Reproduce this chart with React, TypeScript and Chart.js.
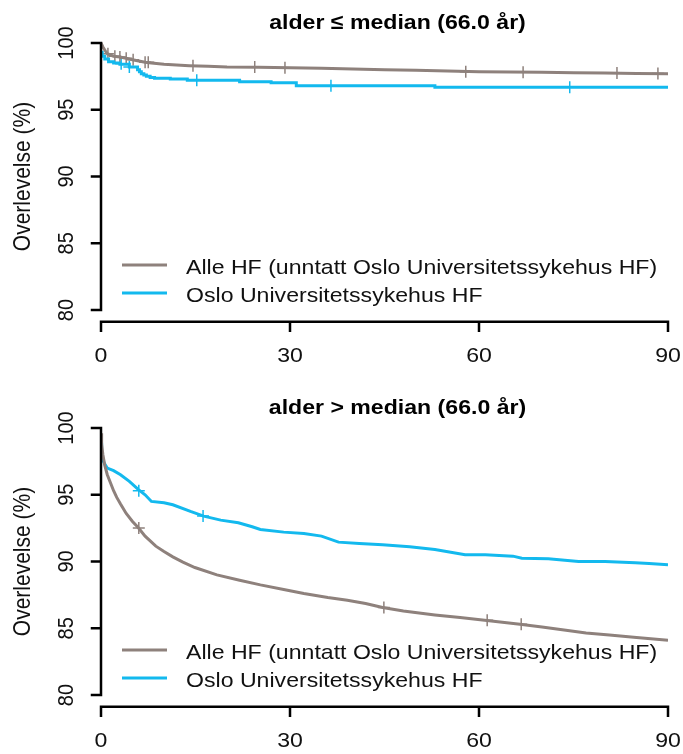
import React, { useEffect, useRef } from "react";
import { Chart, registerables } from "chart.js";

Chart.register(...registerables);

const FONT = '"Liberation Sans", Arial, Helvetica, sans-serif';
const SX = 1.1;

// ---------- shared axis / legend text ----------
const xTicks = [0, 30, 60, 90];
const yTicks = [80, 85, 90, 95, 100];
const yTitle = "Overlevelse (%)";
const seriesNames = ["Alle HF (unntatt Oslo Universitetssykehus HF)", "Oslo Universitetssykehus HF"];
const seriesColors = ["#8E817C", "#13B9EE"];

// ---------- panel 1: alder <= median ----------
const title1 = "alder ≤ median (66.0 år)";
const p1AlleT = [0, 0.3, 0.7, 1, 1.5, 2, 3, 4, 5, 6, 7, 8, 10, 12, 14, 17, 20, 25, 30, 35, 40, 45, 50, 55, 60, 65, 70, 75, 80, 85, 90];
const p1AlleS = [100, 99.7, 99.4, 99.2, 99.1, 99.0, 98.95, 98.85, 98.75, 98.65, 98.55, 98.5, 98.4, 98.35, 98.3, 98.25, 98.2, 98.18, 98.15, 98.1, 98.05, 98.0, 97.95, 97.9, 97.85, 97.82, 97.8, 97.77, 97.75, 97.72, 97.7];
const p1AlleCensT = [1.1, 2.2, 3.0, 4.0, 5.1, 7.0, 7.5, 14.6, 24.4, 29.2, 57.9, 67.0, 81.9, 88.4];
const p1AlleCensS = [99.2, 99.0, 98.95, 98.85, 98.75, 98.55, 98.55, 98.3, 98.2, 98.15, 97.85, 97.8, 97.75, 97.72];
const p1OsloT = [0, 0.2, 0.6, 1.2, 2, 3, 4.5, 5.8, 6.1, 6.4, 6.8, 7.2, 7.8, 8.5, 11, 13.7, 22, 27, 31, 53, 90];
const p1OsloS = [99.3, 99.0, 98.8, 98.6, 98.5, 98.4, 98.2, 98.0, 97.85, 97.7, 97.6, 97.5, 97.42, 97.35, 97.3, 97.2, 97.1, 97.02, 96.8, 96.68, 96.65];
const p1OsloCensT = [3.2, 4.5, 15.2, 36.5, 74.4];
const p1OsloCensS = [98.45, 98.2, 97.2, 96.8, 96.68];

// ---------- panel 2: alder > median ----------
const title2 = "alder > median (66.0 år)";
const p2AlleT = [0, 0.1, 0.3, 0.6, 1, 1.5, 2, 2.5, 3.1, 4, 5, 5.9, 7, 8.7, 10, 11.4, 13, 14.9, 18.4, 22, 25.3, 29, 32.2, 36, 39.1, 42, 44.7, 48, 53, 57, 60.9, 66.5, 70, 73.8, 77, 80.7, 85, 90];
const p2AlleS = [99.6, 98.8, 98.0, 97.2, 96.5, 95.9, 95.3, 94.8, 94.3, 93.6, 93.0, 92.55, 91.9, 91.15, 90.75, 90.35, 89.95, 89.55, 89.0, 88.6, 88.25, 87.9, 87.6, 87.3, 87.1, 86.85, 86.55, 86.3, 86.0, 85.8, 85.6, 85.3, 85.1, 84.85, 84.65, 84.5, 84.3, 84.1];
const p2AlleCensT = [6.0, 44.9, 61.3, 66.7];
const p2AlleCensS = [92.5, 86.55, 85.6, 85.3];
const p2OsloT = [0, 0.1, 0.3, 0.6, 1, 2, 3.1, 4.5, 5.9, 7, 8, 10, 11.4, 14.2, 16.3, 19, 21.8, 24, 25.3, 29, 32.2, 35, 37.7, 41, 44.7, 49, 53, 57.8, 61, 65.4, 66.8, 71, 75.8, 80, 84.8, 87, 90];
const p2OsloS = [98.9, 98.2, 97.6, 97.3, 97.0, 96.8, 96.5, 96.0, 95.4, 95.0, 94.5, 94.4, 94.25, 93.75, 93.4, 93.1, 92.9, 92.6, 92.4, 92.2, 92.1, 91.9, 91.45, 91.35, 91.25, 91.1, 90.9, 90.5, 90.5, 90.4, 90.25, 90.2, 90.0, 90.0, 89.9, 89.85, 89.75];
const p2OsloCensT = [6.0, 16.2];
const p2OsloCensS = [95.3, 93.4];

const pts = (t: number[], s: number[]) => t.map((v, i) => ({ x: v, y: s[i] }));

function txt(ctx: CanvasRenderingContext2D, s: string, x: number, y: number, font: string, align: CanvasTextAlign, rot = 0, color = "#111") {
  ctx.save();
  ctx.translate(x, y);
  ctx.scale(SX, 1);
  if (rot) ctx.rotate(rot);
  ctx.font = font;
  ctx.textAlign = align;
  ctx.textBaseline = "alphabetic";
  ctx.fillStyle = color;
  ctx.fillText(s, 0, 0);
  ctx.restore();
}

function makeRPlugin(title: string) {
  return {
    id: "rStyle",
    afterDraw(chart: any) {
      const { ctx, chartArea: ca } = chart;
      const xs = chart.scales.x;
      const ys = chart.scales.y;
      ctx.save();
      ctx.strokeStyle = "#000";
      ctx.lineWidth = 2.5;
      ctx.lineCap = "square";
      // y axis
      const x0 = ca.left;
      ctx.beginPath();
      ctx.moveTo(x0, ys.getPixelForValue(yTicks[0]));
      ctx.lineTo(x0, ys.getPixelForValue(yTicks[yTicks.length - 1]));
      yTicks.forEach((v) => {
        const py = ys.getPixelForValue(v);
        ctx.moveTo(x0, py);
        ctx.lineTo(x0 - 9, py);
      });
      ctx.stroke();
      yTicks.forEach((v) => {
        txt(ctx, String(v), 73, ys.getPixelForValue(v), `20px ${FONT}`, "center", -Math.PI / 2);
      });
      const mid = (ys.getPixelForValue(80) + ys.getPixelForValue(100)) / 2;
      txt(ctx, yTitle, 29.5, mid, `21px ${FONT}`, "center", -Math.PI / 2);
      // x axis
      const yAx = ca.bottom + 1;
      ctx.beginPath();
      ctx.moveTo(xs.getPixelForValue(xTicks[0]), yAx);
      ctx.lineTo(xs.getPixelForValue(xTicks[xTicks.length - 1]), yAx);
      xTicks.forEach((v) => {
        const px = xs.getPixelForValue(v);
        ctx.moveTo(px, yAx);
        ctx.lineTo(px, yAx + 9);
      });
      ctx.stroke();
      xTicks.forEach((v) => {
        txt(ctx, String(v), xs.getPixelForValue(v), 362, `21px ${FONT}`, "center");
      });
      // title
      txt(ctx, title, 397.5, 29, `bold 21px ${FONT}`, "center", 0, "#000");
      // legend
      ctx.lineCap = "butt";
      ctx.lineWidth = 3;
      seriesNames.forEach((name, i) => {
        const ly = 265 + i * 28;
        ctx.strokeStyle = seriesColors[i];
        ctx.beginPath();
        ctx.moveTo(122, ly);
        ctx.lineTo(167, ly);
        ctx.stroke();
        txt(ctx, name, 186, ly + 8.5, `21px ${FONT}`, "left");
      });
      ctx.restore();
    },
  };
}

function Panel(props: {
  title: string;
  height: number;
  alleT: number[]; alleS: number[]; alleCT: number[]; alleCS: number[];
  osloT: number[]; osloS: number[]; osloCT: number[]; osloCS: number[];
  osloStepped: boolean;
}) {
  const ref = useRef<HTMLCanvasElement | null>(null);
  useEffect(() => {
    if (!ref.current) return;
    const H = props.height;
    const chart = new Chart(ref.current, {
      type: "line",
      data: {
        datasets: [
          {
            label: seriesNames[0],
            data: pts(props.alleT, props.alleS),
            borderColor: seriesColors[0],
            borderWidth: 3,
            pointRadius: 0,
            fill: false,
            tension: 0,
          },
          {
            label: seriesNames[1],
            data: pts(props.osloT, props.osloS),
            borderColor: seriesColors[1],
            borderWidth: 3,
            pointRadius: 0,
            fill: false,
            tension: 0,
            stepped: props.osloStepped ? "before" : false,
          },
          {
            label: "censor1",
            data: pts(props.alleCT, props.alleCS),
            showLine: false,
            pointStyle: "cross",
            pointRadius: 6,
            pointBorderWidth: 1.5,
            borderColor: seriesColors[0],
            backgroundColor: seriesColors[0],
          },
          {
            label: "censor2",
            data: pts(props.osloCT, props.osloCS),
            showLine: false,
            pointStyle: "cross",
            pointRadius: 6,
            pointBorderWidth: 1.5,
            borderColor: seriesColors[1],
            backgroundColor: seriesColors[1],
          },
        ] as any,
      },
      options: {
        responsive: false,
        animation: false,
        devicePixelRatio: 1,
        layout: { padding: { left: 101, right: 15, top: 32.3, bottom: H - 320.7 } },
        scales: {
          x: { type: "linear", min: 0, max: 90, display: false },
          y: { type: "linear", min: 79.2, max: 100.8, display: false },
        },
        plugins: {
          legend: { display: false },
          title: { display: false },
          tooltip: { enabled: false },
        },
      } as any,
      plugins: [makeRPlugin(props.title)],
    });
    return () => chart.destroy();
  }, []);
  return <canvas ref={ref} width={683} height={props.height} style={{ display: "block", width: 683, height: props.height }} />;
}

export default function App() {
  return (
    <div style={{ position: "absolute", left: 0, top: 0, width: 683, height: 754, background: "#fff" }}>
      <Panel
        title={title1}
        height={385}
        alleT={p1AlleT} alleS={p1AlleS} alleCT={p1AlleCensT} alleCS={p1AlleCensS}
        osloT={p1OsloT} osloS={p1OsloS} osloCT={p1OsloCensT} osloCS={p1OsloCensS}
        osloStepped={true}
      />
      <Panel
        title={title2}
        height={369}
        alleT={p2AlleT} alleS={p2AlleS} alleCT={p2AlleCensT} alleCS={p2AlleCensS}
        osloT={p2OsloT} osloS={p2OsloS} osloCT={p2OsloCensT} osloCS={p2OsloCensS}
        osloStepped={false}
      />
    </div>
  );
}
